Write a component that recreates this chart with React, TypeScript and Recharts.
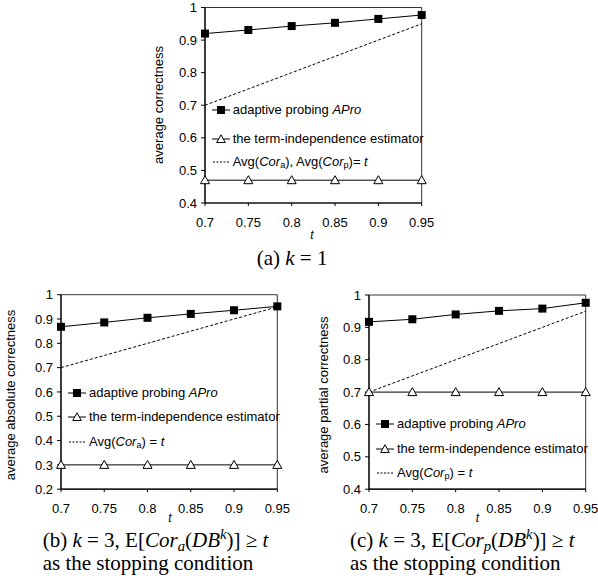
import React from 'react';
import {
  LineChart,
  Line,
  XAxis,
  YAxis,
  ReferenceArea,
} from 'recharts';

const SANS = "'Liberation Sans', Arial, sans-serif";
const SERIF = "'Liberation Serif', 'Times New Roman', serif";

// thresholds t on the x axis
const tValues = [0.7, 0.75, 0.8, 0.85, 0.9, 0.95];
// the Avg(...) = t reference line
const targetLine = [0.7, 0.75, 0.8, 0.85, 0.9, 0.95];

// (a) k = 1
const aproK1 = [0.92, 0.931, 0.943, 0.953, 0.965, 0.977];
const termK1 = [0.47, 0.47, 0.47, 0.47, 0.47, 0.47];
const yTicksK1 = [0.4, 0.5, 0.6, 0.7, 0.8, 0.9, 1];

// (b) k = 3, absolute correctness
const aproAbs = [0.868, 0.886, 0.905, 0.921, 0.936, 0.952];
const termAbs = [0.3, 0.3, 0.3, 0.3, 0.3, 0.3];
const yTicksAbs = [0.2, 0.3, 0.4, 0.5, 0.6, 0.7, 0.8, 0.9, 1];

// (c) k = 3, partial correctness
const aproPart = [0.917, 0.925, 0.94, 0.951, 0.958, 0.976];
const termPart = [0.7, 0.7, 0.7, 0.7, 0.7, 0.7];
const yTicksPart = [0.4, 0.5, 0.6, 0.7, 0.8, 0.9, 1];

const buildRows = (apro: number[], term: number[]) =>
  tValues.map((t, i) => ({ t, apro: apro[i], term: term[i], target: targetLine[i] }));

const renderSquare = (p: any) => (
  <rect key={`sq-${p.index}`} x={p.cx - 4} y={p.cy - 4} width={8} height={8} fill="#000" />
);

const renderTriangle = (p: any) => (
  <path
    key={`tri-${p.index}`}
    d={`M${p.cx},${p.cy - 4.5} L${p.cx + 4.5},${p.cy + 3.5} L${p.cx - 4.5},${p.cy + 3.5} Z`}
    fill="#fff"
    stroke="#000"
    strokeWidth={1}
  />
);

type PanelProps = {
  left: number;
  top: number;
  width: number;
  height: number;
  plot: { l: number; r: number; t: number; b: number };
  rows: any[];
  yDomain: [number, number];
  yTicks: number[];
};

const X_H = 30;

function Panel({ left, top, width, height, plot, rows, yDomain, yTicks }: PanelProps) {
  const yW = plot.l - left;
  const margin = {
    top: plot.t - top,
    right: left + width - plot.r,
    bottom: top + height - plot.b - X_H,
    left: 0,
  };
  const tick = { fill: '#000', fontSize: 13, fontFamily: SANS };
  return (
    <div style={{ position: 'absolute', left, top }}>
      <LineChart width={width} height={height} data={rows} margin={margin}>
        <ReferenceArea
          x1={0.7}
          x2={0.95}
          y1={yDomain[0]}
          y2={yDomain[1]}
          fill="none"
          stroke="#333"
          strokeWidth={1}
          ifOverflow="visible"
        />
        <XAxis
          dataKey="t"
          type="number"
          domain={[0.7, 0.95]}
          ticks={tValues}
          interval={0}
          tickFormatter={(v) => String(v)}
          height={X_H}
          tickSize={3}
          tickMargin={12}
          axisLine={{ stroke: '#000', strokeWidth: 1.2 }}
          tickLine={{ stroke: '#000' }}
          tick={tick}
        />
        <YAxis
          type="number"
          domain={yDomain}
          ticks={yTicks}
          interval={0}
          tickFormatter={(v) => String(v)}
          width={yW}
          tickSize={4}
          tickMargin={4}
          axisLine={{ stroke: '#000', strokeWidth: 1.2 }}
          tickLine={{ stroke: '#000' }}
          tick={tick}
        />
        <Line
          type="linear"
          dataKey="target"
          stroke="#000"
          strokeWidth={1}
          strokeDasharray="3 2"
          dot={false}
          isAnimationActive={false}
        />
        <Line
          type="linear"
          dataKey="term"
          stroke="#000"
          strokeWidth={1}
          dot={renderTriangle}
          isAnimationActive={false}
        />
        <Line
          type="linear"
          dataKey="apro"
          stroke="#000"
          strokeWidth={1}
          dot={renderSquare}
          isAnimationActive={false}
        />
      </LineChart>
    </div>
  );
}

const sub = (s: React.ReactNode) => (
  <span style={{ fontSize: '0.7em', verticalAlign: '-0.25em', lineHeight: 0 }}>{s}</span>
);
const sup = (s: React.ReactNode) => (
  <span style={{ fontSize: '0.7em', verticalAlign: '0.55em', lineHeight: 0 }}>{s}</span>
);

function Icon({ kind }: { kind: 'square' | 'triangle' | 'dash' }) {
  return (
    <svg width={18} height={10} style={{ marginRight: 3, flex: 'none' }}>
      {kind === 'dash' ? (
        <line x1={1} y1={5} x2={18} y2={5} stroke="#000" strokeDasharray="2 1.5" />
      ) : (
        <line x1={0} y1={5} x2={18} y2={5} stroke="#000" />
      )}
      {kind === 'square' && <rect x={5} y={1} width={8} height={8} fill="#000" />}
      {kind === 'triangle' && (
        <path d="M9,0.8 L13.3,8.5 L4.7,8.5 Z" fill="#fff" stroke="#000" />
      )}
    </svg>
  );
}

function LegendRow({ x, y, kind, children }: any) {
  return (
    <div
      style={{
        position: 'absolute',
        left: x,
        top: y - 8,
        height: 16,
        lineHeight: '16px',
        display: 'flex',
        alignItems: 'center',
        fontSize: 13,
        fontFamily: SANS,
        whiteSpace: 'nowrap',
        color: '#000',
      }}
    >
      <Icon kind={kind} />
      <span>{children}</span>
    </div>
  );
}

function YTitle({ x, y, text }: { x: number; y: number; text: string }) {
  return (
    <div
      style={{
        position: 'absolute',
        left: x,
        top: y,
        transform: 'translate(-50%, -50%) rotate(-90deg)',
        fontSize: 13,
        fontFamily: SANS,
        whiteSpace: 'nowrap',
        lineHeight: '15px',
      }}
    >
      {text}
    </div>
  );
}

function TLabel({ x, y }: { x: number; y: number }) {
  return (
    <div
      style={{
        position: 'absolute',
        left: x,
        top: y,
        transform: 'translate(-50%, -50%)',
        fontSize: 12,
        fontStyle: 'italic',
        fontFamily: SANS,
        lineHeight: '14px',
      }}
    >
      t
    </div>
  );
}

const captionStyle = (left: number, top: number): React.CSSProperties => ({
  position: 'absolute',
  left,
  top,
  fontFamily: SERIF,
  fontSize: 21,
  lineHeight: '23px',
  whiteSpace: 'nowrap',
  color: '#000',
});

export default function App() {
  return (
    <div
      style={{
        position: 'absolute',
        left: 0,
        top: 0,
        width: 598,
        height: 583,
        background: '#fff',
        overflow: 'hidden',
      }}
    >
      {/* (a) k = 1 */}
      <Panel
        left={130}
        top={0}
        width={315}
        height={240}
        plot={{ l: 205, r: 421.7, t: 7.5, b: 203 }}
        rows={buildRows(aproK1, termK1)}
        yDomain={[0.4, 1]}
        yTicks={yTicksK1}
      />
      <YTitle x={158.3} y={105} text="average correctness" />
      <TLabel x={312} y={235} />
      <LegendRow x={211.7} y={110} kind="square">
        adaptive probing <i>APro</i>
      </LegendRow>
      <LegendRow x={211.7} y={139} kind="triangle">
        the term-independence estimator
      </LegendRow>
      <LegendRow x={211.7} y={162} kind="dash">
        Avg(<i>Cor</i>{sub('a')}), Avg(<i>Cor</i>{sub('p')})= <i>t</i>
      </LegendRow>
      <div style={captionStyle(256.7, 247)}>
        (a) <i>k</i> = 1
      </div>

      {/* (b) absolute correctness */}
      <Panel
        left={0}
        top={285}
        width={295}
        height={240}
        plot={{ l: 61, r: 277.3, t: 294.7, b: 489.2 }}
        rows={buildRows(aproAbs, termAbs)}
        yDomain={[0.2, 1]}
        yTicks={yTicksAbs}
      />
      <YTitle x={10} y={395} text="average absolute correctness" />
      <TLabel x={170} y={517.5} />
      <LegendRow x={68} y={392.7} kind="square">
        adaptive probing <i>APro</i>
      </LegendRow>
      <LegendRow x={68} y={416.7} kind="triangle">
        the term-independence estimator
      </LegendRow>
      <LegendRow x={68} y={441.7} kind="dash">
        Avg(<i>Cor</i>{sub('a')}) = <i>t</i>
      </LegendRow>
      <div style={captionStyle(42.7, 529)}>
        <div>
          (b) <i>k</i> = 3, E[<i>Cor</i>{sub(<i>a</i>)}(<i>DB</i>{sup(<i>k</i>)})] ≥ <i>t</i>
        </div>
        <div>as the stopping condition</div>
      </div>

      {/* (c) partial correctness */}
      <Panel
        left={298}
        top={285}
        width={300}
        height={240}
        plot={{ l: 369, r: 585.7, t: 295, b: 489.2 }}
        rows={buildRows(aproPart, termPart)}
        yDomain={[0.4, 1]}
        yTicks={yTicksPart}
      />
      <YTitle x={323} y={395} text="average partial correctness" />
      <TLabel x={477.3} y={517.5} />
      <LegendRow x={376} y={424.3} kind="square">
        adaptive probing <i>APro</i>
      </LegendRow>
      <LegendRow x={376} y={449.3} kind="triangle">
        the term-independence estimator
      </LegendRow>
      <LegendRow x={376} y={472.7} kind="dash">
        Avg(<i>Cor</i>{sub('p')}) = <i>t</i>
      </LegendRow>
      <div style={captionStyle(350, 529)}>
        <div>
          (c) <i>k</i> = 3, E[<i>Cor</i>{sub(<i>p</i>)}(<i>DB</i>{sup(<i>k</i>)})] ≥ <i>t</i>
        </div>
        <div>as the stopping condition</div>
      </div>
    </div>
  );
}
